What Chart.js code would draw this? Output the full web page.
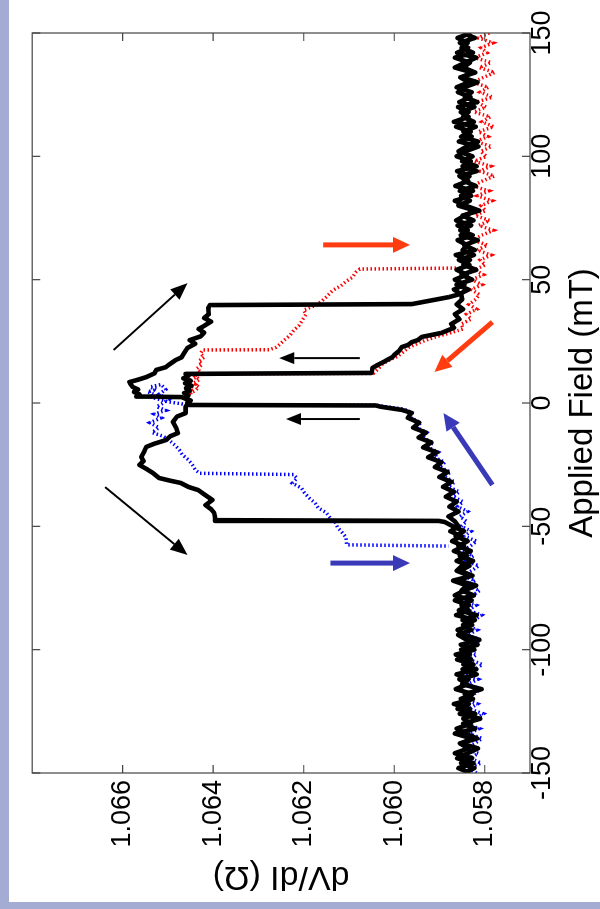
<!DOCTYPE html>
<html>
<head>
<meta charset="utf-8">
<script src="https://cdn.jsdelivr.net/npm/chart.js@4"></script>
<style>
  html, body { margin: 0; padding: 0; }
  body { width: 600px; height: 909px; background: #a4acd4; overflow: hidden; position: relative; }
  #wrap { position: absolute; left: 9px; top: 0; width: 591px; height: 902px; background: #fff; overflow: hidden; }
  #chart { position: absolute; left: 0; top: 0; transform-origin: 0 0; transform: translateY(902px) rotate(-90deg); }
</style>
</head>
<body>
<div id="wrap"><canvas id="chart" width="902" height="591"></canvas></div>
<script>
// tick labels
const fieldTicks = [-150, -100, -50, 0, 50, 100, 150];
const valueTicks = [1.058, 1.060, 1.062, 1.064, 1.066];

// black, sweep up (-150 -> +150)
const upField = [
  -150, -148, -146, -144, -142, -140, -138, -136, -134, -132, -130, -128, -126, -124, -122, -120, -118,
  -116, -114, -112, -110, -108, -106, -104, -102, -100, -98, -96, -94, -92, -90, -88, -86, -84, -82,
  -80, -78, -76, -74, -72, -70, -68, -66, -64, -62, -60, -58, -56, -54, -52, -50,
  -48, -46, -44, -42, -40, -38, -36, -34, -32, -30, -28, -26, -24, -22, -20, -18, -16, -14, -12, -10,
  -8, -6, -4, -2.8, -1.5, -1,
  -0.8, 0, 1, 1.8, 2.4, 2.5, 2.6, 3.5, 4.5, 5.5, 6.5, 7.5, 8.5, 9.5, 10.5, 12, 13.4, 14.5, 15.5, 17.4,
  18.5, 20, 22.3, 24, 25.5, 27, 28.5, 30, 31.5, 33, 34.5, 36, 38.5, 39.7, 40.1, 42.9,
  44, 46, 48, 50, 52, 54, 56, 58, 60, 62, 64, 66, 68, 70, 72, 74, 76, 78, 80, 82, 84, 86, 88, 90, 92,
  94, 96, 98, 100, 102, 104, 106, 108, 110, 112, 114, 116, 118, 120, 122, 124, 126, 128, 130, 132,
  134, 136, 138, 140, 142, 144, 146, 148, 150
];
const upValue = [
  1.05832, 1.05858, 1.05825, 1.05861, 1.05838, 1.05815, 1.05852, 1.05829, 1.05866, 1.05821, 1.05848,
  1.05810, 1.05855, 1.05833, 1.05868, 1.05826, 1.05844, 1.05807, 1.05850, 1.05836, 1.05862, 1.05819,
  1.05847, 1.05830, 1.05864, 1.05823, 1.05853, 1.05812, 1.05845, 1.05860, 1.05828, 1.05849, 1.05818,
  1.05857, 1.05835, 1.05866, 1.05824, 1.05851, 1.05839, 1.05870, 1.05827, 1.05855, 1.05834, 1.05862,
  1.05840, 1.05868, 1.05846, 1.05872, 1.05852, 1.05876, 1.05858,
  1.05866, 1.05880, 1.05858, 1.05878, 1.05862, 1.05886, 1.05868, 1.05892, 1.05874, 1.05900, 1.05882,
  1.05910, 1.05896, 1.05925, 1.05906, 1.05936, 1.05918, 1.05946, 1.05930, 1.05958, 1.05945, 1.05970,
  1.05962, 1.05983, 1.06030, 1.06041,
  1.06454, 1.06457, 1.06450, 1.06462, 1.06470, 1.06520, 1.06570, 1.06563, 1.06575, 1.06566, 1.06578,
  1.06582, 1.06585, 1.06565, 1.06548, 1.06530, 1.06526, 1.06505, 1.06498, 1.06483, 1.06470, 1.06465,
  1.06457, 1.06440, 1.06452, 1.06428, 1.06420, 1.06432, 1.06418, 1.06405, 1.06420, 1.06410, 1.06411,
  1.06407, 1.05961, 1.05880,
  1.05858, 1.05836, 1.05862, 1.05828, 1.05851, 1.05819, 1.05847, 1.05833, 1.05864, 1.05822, 1.05845,
  1.05816, 1.05853, 1.05838, 1.05860, 1.05825, 1.05849, 1.05812, 1.05842, 1.05866, 1.05830, 1.05855,
  1.05820, 1.05846, 1.05834, 1.05861, 1.05818, 1.05850, 1.05827, 1.05858, 1.05840, 1.05815, 1.05852,
  1.05831, 1.05863, 1.05824, 1.05848, 1.05836, 1.05859, 1.05817, 1.05844, 1.05829, 1.05862, 1.05835,
  1.05854, 1.05821, 1.05848, 1.05833, 1.05866, 1.05826, 1.05851, 1.05838, 1.05860, 1.05830
];

// black, sweep down (+150 -> -150)
const downField = [
  150, 148, 146, 144, 142, 140, 138, 136, 134, 132, 130, 128, 126, 124, 122, 120, 118, 116, 114, 112,
  110, 108, 106, 104, 102, 100, 98, 96, 94, 92, 90, 88, 86, 84, 82, 80, 78, 76, 74, 72, 70, 68, 66, 64,
  62, 60, 58, 56, 54, 52, 50, 48, 46, 44,
  42, 40, 38, 36, 34, 32, 30.5, 29.6, 28.4, 27.5, 26.8, 25.5, 24.7, 23.5, 22.7, 21, 19.5, 18.6, 17,
  15.4, 14.2, 12.2,
  11.8, 11, 10, 9, 8, 7, 6, 5, 4, 3, 2, 1.2, 0, -1.5, -4.1, -5.5, -7.7, -10, -12.2, -13.5, -15, -16.5,
  -17.8, -19.5, -21.9, -23.5, -25.1, -27, -28.4, -30.4, -31.5, -32.4, -34, -35.3, -37, -39.3, -41.4,
  -43, -44.5, -46.2, -47.5, -47.8, -48.2,
  -50, -52, -54, -56, -58, -60, -62, -64, -66, -68, -70, -72, -74, -76, -78, -80, -82, -84, -86, -88,
  -90, -92, -94, -96, -98, -100, -102, -104, -106, -108, -110, -112, -114, -116, -118, -120, -122,
  -124, -126, -128, -130, -132, -134, -136, -138, -140, -142, -144, -146, -148, -150
];
const downValue = [
  1.05848, 1.05822, 1.05855, 1.05837, 1.05861, 1.05819, 1.05843, 1.05866, 1.05828, 1.05850, 1.05816,
  1.05845, 1.05859, 1.05832, 1.05856, 1.05823, 1.05853, 1.05836, 1.05868, 1.05820, 1.05847, 1.05829,
  1.05857, 1.05814, 1.05843, 1.05862, 1.05831, 1.05849, 1.05818, 1.05856, 1.05837, 1.05865, 1.05826,
  1.05852, 1.05833, 1.05858, 1.05821, 1.05844, 1.05863, 1.05830, 1.05854, 1.05827, 1.05860, 1.05839,
  1.05849, 1.05824, 1.05857, 1.05834, 1.05862, 1.05840, 1.05866, 1.05845, 1.05868, 1.05852,
  1.05850, 1.05862, 1.05848, 1.05866, 1.05856, 1.05874, 1.05868, 1.05880, 1.05896, 1.05920, 1.05939,
  1.05948, 1.05961, 1.05970, 1.05983, 1.05990, 1.06000, 1.06004, 1.06020, 1.06037, 1.06048, 1.06050,
  1.06461, 1.06455, 1.06466, 1.06450, 1.06462, 1.06448, 1.06460, 1.06452, 1.06464, 1.06455, 1.06460,
  1.06457, 1.06455, 1.06461, 1.06461, 1.06480, 1.06489, 1.06482, 1.06478, 1.06495, 1.06504, 1.06530,
  1.06548, 1.06552, 1.06559, 1.06554, 1.06563, 1.06545, 1.06533, 1.06520, 1.06495, 1.06472, 1.06455,
  1.06433, 1.06420, 1.06402, 1.06417, 1.06405, 1.06398, 1.06396, 1.06396, 1.05902, 1.05889,
  1.05870, 1.05846, 1.05864, 1.05838, 1.05858, 1.05831, 1.05855, 1.05826, 1.05850, 1.05862, 1.05834,
  1.05857, 1.05819, 1.05845, 1.05866, 1.05829, 1.05851, 1.05836, 1.05863, 1.05822, 1.05848, 1.05830,
  1.05859, 1.05840, 1.05816, 1.05852, 1.05833, 1.05861, 1.05825, 1.05849, 1.05818, 1.05856, 1.05839,
  1.05864, 1.05827, 1.05853, 1.05835, 1.05860, 1.05821, 1.05847, 1.05831, 1.05862, 1.05843, 1.05817,
  1.05855, 1.05836, 1.05866, 1.05828, 1.05852, 1.05823, 1.05846
];

// red dotted, minor loop on the positive side
const redField = [
  150, 148, 146, 144, 142, 140, 138, 136, 134, 132, 130, 128, 126, 124, 122, 120, 118, 116, 114, 112,
  110, 108, 106, 104, 102, 100, 98, 96, 94, 92, 90, 88, 86, 84, 82, 80, 78, 76, 74, 72, 70, 68, 66, 64,
  62, 60, 58, 56, 54, 52, 50, 48, 46, 44,
  42, 40, 38, 36, 34, 32, 30, 28.5, 27, 25.5, 24, 22.5, 21, 19, 17.5, 16, 14.5, 13, 12,
  11.8, 10.5, 9, 7.5, 6, 5, 4, 5, 6.5, 8, 9.5, 11, 12.5, 14, 15.5, 17, 18.5, 20, 21.5,
  21.6, 22.5, 23.5, 25.5, 27.5, 29.5, 31.5, 33, 34.5, 36, 37.7, 39.5, 41, 43, 45.8, 47.5, 49.5, 51,
  53, 54.3, 54.7
];
const redValue = [
  1.05790, 1.05815, 1.05782, 1.05808, 1.05795, 1.05822, 1.05786, 1.05812, 1.05778, 1.05803, 1.05826,
  1.05792, 1.05810, 1.05783, 1.05818, 1.05797, 1.05824, 1.05788, 1.05806, 1.05780, 1.05814, 1.05793,
  1.05820, 1.05785, 1.05809, 1.05796, 1.05823, 1.05787, 1.05811, 1.05779, 1.05805, 1.05827, 1.05791,
  1.05816, 1.05784, 1.05808, 1.05798, 1.05821, 1.05789, 1.05813, 1.05781, 1.05807, 1.05825, 1.05794,
  1.05817, 1.05786, 1.05810, 1.05799, 1.05822, 1.05803, 1.05828, 1.05806, 1.05830, 1.05812,
  1.05820, 1.05835, 1.05818, 1.05840, 1.05830, 1.05852, 1.05848, 1.05875, 1.05905, 1.05930, 1.05950,
  1.05968, 1.05978, 1.05992, 1.06010, 1.06025, 1.06032, 1.06040, 1.06046,
  1.06446, 1.06438, 1.06452, 1.06440, 1.06455, 1.06445, 1.06450, 1.06440, 1.06432, 1.06445, 1.06430,
  1.06440, 1.06428, 1.06436, 1.06425, 1.06432, 1.06420, 1.06428, 1.06424,
  1.06276, 1.06262, 1.06255, 1.06243, 1.06230, 1.06222, 1.06210, 1.06205, 1.06200, 1.06195, 1.06200,
  1.06175, 1.06162, 1.06150, 1.06135, 1.06118, 1.06105, 1.06092, 1.06085, 1.06076, 1.05863
];

// blue dotted, minor loop on the negative side
const blueField = [
  -150, -148, -146, -144, -142, -140, -138, -136, -134, -132, -130, -128, -126, -124, -122, -120, -118,
  -116, -114, -112, -110, -108, -106, -104, -102, -100, -98, -96, -94, -92, -90, -88, -86, -84, -82,
  -80, -78, -76, -74, -72, -70, -68, -66, -64, -62, -60, -58, -56, -54, -52, -50,
  -48, -46, -44, -42, -40, -38, -36, -34, -32, -30, -28, -26, -24, -22, -20, -18, -16, -14, -12, -10,
  -8, -6, -4, -2.5, -1.2, -0.9,
  -0.8, 0.5, 1.5, 2.5, 3.5, 4.5, 5.5, 6.5, 7.5, 5.5, 3.5, 1.5, 0, -1.5, -3, -4.5, -6, -8, -10, -12,
  -13.5, -15, -17, -19, -21, -23, -25, -27, -28.5,
  -29, -30.5, -32.5, -34.5, -36.5, -38.5, -40.5, -42.5, -44.5, -46.5, -48.5, -50.5, -52.5, -54.3,
  -57.5, -58
];
const blueValue = [
  1.05818, 1.05840, 1.05808, 1.05832, 1.05814, 1.05845, 1.05822, 1.05806, 1.05836, 1.05812, 1.05842,
  1.05820, 1.05803, 1.05834, 1.05816, 1.05848, 1.05824, 1.05810, 1.05838, 1.05815, 1.05844, 1.05821,
  1.05805, 1.05835, 1.05818, 1.05846, 1.05826, 1.05809, 1.05839, 1.05817, 1.05843, 1.05823, 1.05807,
  1.05837, 1.05819, 1.05847, 1.05827, 1.05811, 1.05840, 1.05821, 1.05849, 1.05829, 1.05813, 1.05842,
  1.05825, 1.05850, 1.05832, 1.05818, 1.05845, 1.05830, 1.05852,
  1.05840, 1.05855, 1.05838, 1.05860, 1.05848, 1.05870, 1.05856, 1.05880, 1.05866, 1.05890, 1.05876,
  1.05900, 1.05888, 1.05912, 1.05902, 1.05925, 1.05915, 1.05938, 1.05928, 1.05950, 1.05942, 1.05962,
  1.05960, 1.05978, 1.06030, 1.06040,
  1.06454, 1.06500, 1.06520, 1.06540, 1.06530, 1.06545, 1.06525, 1.06540, 1.06515, 1.06505, 1.06520,
  1.06498, 1.06510, 1.06525, 1.06505, 1.06530, 1.06515, 1.06540, 1.06520, 1.06535, 1.06510, 1.06498,
  1.06485, 1.06475, 1.06468, 1.06455, 1.06446, 1.06440, 1.06430,
  1.06222, 1.06215, 1.06225, 1.06205, 1.06198, 1.06188, 1.06175, 1.06168, 1.06150, 1.06142, 1.06130,
  1.06125, 1.06115, 1.06107, 1.06105, 1.05880
];

// arrows drawn on top, in data units
const arrows = [
  { from: [21.5, 1.06620], to: [48.6, 1.06457], color: '#000', width: 2, len: 17, half: 7 },
  { from: [-34.1, 1.06639], to: [-61.6, 1.06457], color: '#000', width: 2, len: 17, half: 7 },
  { from: [18.2, 1.06076], to: [18.2, 1.06254], color: '#000', width: 2, len: 15, half: 6 },
  { from: [-6.5, 1.06076], to: [-6.5, 1.06239], color: '#000', width: 2, len: 15, half: 6 },
  { from: [64.1, 1.06157], to: [64.1, 1.05965], color: '#ff3b10', width: 5, len: 17, half: 8 },
  { from: [32.8, 1.05783], to: [12.6, 1.05911], color: '#ff3b10', width: 5, len: 17, half: 8 },
  { from: [-33.2, 1.05783], to: [-4.1, 1.05891], color: '#3a3ab8', width: 5, len: 17, half: 8 },
  { from: [-64.9, 1.06141], to: [-64.9, 1.05965], color: '#3a3ab8', width: 5, len: 17, half: 8 }
];

function pairs(xs, ys) {
  return xs.map((x, i) => ({ x: x, y: ys[i] }));
}

function drawArrow(ctx, x1, y1, x2, y2, a) {
  const ang = Math.atan2(y2 - y1, x2 - x1);
  const bx = x2 - a.len * Math.cos(ang), by = y2 - a.len * Math.sin(ang);
  ctx.strokeStyle = a.color;
  ctx.fillStyle = a.color;
  ctx.lineWidth = a.width;
  ctx.lineCap = 'butt';
  ctx.beginPath();
  ctx.moveTo(x1, y1);
  ctx.lineTo(bx, by);
  ctx.stroke();
  ctx.beginPath();
  ctx.moveTo(x2, y2);
  ctx.lineTo(bx + a.half * Math.sin(ang), by - a.half * Math.cos(ang));
  ctx.lineTo(bx - a.half * Math.sin(ang), by + a.half * Math.cos(ang));
  ctx.closePath();
  ctx.fill();
}

// box with inward ticks on all four sides, plus the arrows
const boxPlugin = {
  id: 'boxPlugin',
  afterDatasetsDraw(chart) {
    const { ctx, chartArea: a, scales } = chart;
    const xs = scales.x, ys = scales.y;
    ctx.save();
    arrows.forEach(ar => {
      drawArrow(ctx,
        xs.getPixelForValue(ar.from[0]), ys.getPixelForValue(ar.from[1]),
        xs.getPixelForValue(ar.to[0]), ys.getPixelForValue(ar.to[1]), ar);
    });
    ctx.strokeStyle = '#444';
    ctx.lineWidth = 1.2;
    ctx.strokeRect(a.left, a.top, a.right - a.left, a.bottom - a.top);
    ctx.beginPath();
    fieldTicks.forEach(t => {
      const p = xs.getPixelForValue(t);
      ctx.moveTo(p, a.bottom); ctx.lineTo(p, a.bottom - 8);
      ctx.moveTo(p, a.top); ctx.lineTo(p, a.top + 8);
    });
    valueTicks.forEach(t => {
      const p = ys.getPixelForValue(t);
      ctx.moveTo(a.left, p); ctx.lineTo(a.left + 8, p);
      ctx.moveTo(a.right, p); ctx.lineTo(a.right - 8, p);
    });
    ctx.stroke();
    ctx.restore();
  }
};

const font = 'Arial, "Liberation Sans", Helvetica, sans-serif';

const ctx = document.getElementById('chart').getContext('2d');
const chart = new Chart(ctx, {
  type: 'scatter',
  data: {
    datasets: [
      {
        label: 'up',
        data: pairs(upField, upValue),
        showLine: true,
        borderColor: '#000',
        borderWidth: 4.6,
        borderJoinStyle: 'round',
        pointRadius: 0,
        order: 0
      },
      {
        label: 'down',
        data: pairs(downField, downValue),
        showLine: true,
        borderColor: '#000',
        borderWidth: 4.6,
        borderJoinStyle: 'round',
        pointRadius: 0,
        order: 0
      },
      {
        label: 'red',
        data: pairs(redField, redValue),
        showLine: true,
        borderColor: '#ff0000',
        borderWidth: 3.5,
        borderDash: [1.5, 2.5],
        pointRadius: 0,
        order: 1
      },
      {
        label: 'blue',
        data: pairs(blueField, blueValue),
        showLine: true,
        borderColor: '#0000ff',
        borderWidth: 3.5,
        borderDash: [1.5, 2.5],
        pointRadius: 0,
        order: 1
      }
    ]
  },
  options: {
    responsive: false,
    animation: false,
    devicePixelRatio: 1,
    layout: { padding: { top: 16, right: 33, left: 0, bottom: 0 } },
    plugins: {
      legend: { display: false },
      tooltip: { enabled: false }
    },
    scales: {
      x: {
        type: 'linear',
        min: -150,
        max: 150,
        grid: { display: false, drawTicks: false },
        border: { display: false },
        afterBuildTicks(scale) { scale.ticks = fieldTicks.map(v => ({ value: v })); },
        afterFit(scale) { scale.height = 70; },
        ticks: {
          color: '#000',
          padding: -4,
          maxRotation: 0,
          font: { family: font, size: 27 },
          callback: v => String(v)
        },
        title: {
          display: true,
          text: 'Applied Field (mT)',
          color: '#000',
          font: { family: font, size: 33 },
          padding: { top: 0, bottom: -3 }
        }
      },
      y: {
        type: 'linear',
        min: 1.057,
        max: 1.068,
        grid: { display: false, drawTicks: false },
        border: { display: false },
        afterBuildTicks(scale) { scale.ticks = valueTicks.map(v => ({ value: v })); },
        afterFit(scale) { scale.width = 129; },
        ticks: {
          color: '#000',
          padding: 7,
          font: { family: font, size: 27 },
          callback: v => v.toFixed(3)
        },
        title: {
          display: true,
          text: 'dV/dI (Ω)',
          color: '#000',
          font: { family: font, size: 34 },
          padding: { top: 5, bottom: 0 }
        }
      }
    }
  },
  plugins: [boxPlugin]
});
</script>
</body>
</html>
